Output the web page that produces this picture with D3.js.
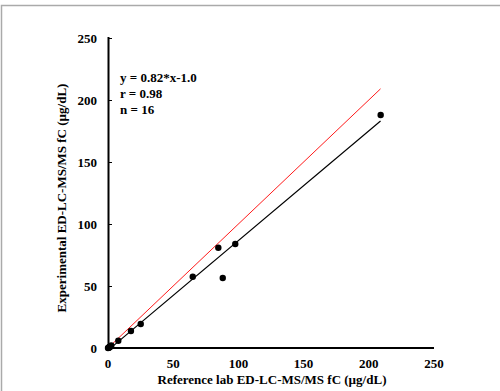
<!DOCTYPE html>
<html>
<head>
<meta charset="utf-8">
<script src="https://cdn.jsdelivr.net/npm/d3@7"></script>
<style>
  body { margin: 0; background: #fff; }
  svg { display: block; }
  text { font-family: "Liberation Serif", "Times New Roman", serif; font-weight: bold; fill: #000; }
</style>
</head>
<body>
<div id="chart"></div>
<script>
// Reference lab vs experimental values (µg/dL)
const refValues = [0, 0.5, 0.8, 1.0, 1.2, 1.5, 2.0, 2.5, 7.9, 17.6, 25.1, 65.0, 84.6, 88.0, 97.6, 209.1];
const expValues = [0, 0.3, 0.5, 0.8, 0.6, 1.0, 1.5, 2.0, 5.9, 13.7, 19.4, 57.5, 80.9, 56.5, 83.9, 187.9];

// fitted line (as drawn) and identity line endpoints
const fitLine = [[1.5, -0.5], [209, 183]];
const identityLine = [[0, 0], [209, 209]];

const xTicks = [0, 50, 100, 150, 200, 250];
const yTicks = [0, 50, 100, 150, 200, 250];
const statsText = ['y = 0.82*x-1.0', 'r = 0.98', 'n = 16'];

const width = 500, height = 391;
const margin = { left: 108, right: 66, top: 38, bottom: 43 };

const svg = d3.select('#chart')
  .append('svg')
  .attr('width', width)
  .attr('height', height);

// outer frame (top + left edges only)
svg.append('path')
  .attr('d', `M1.5,${height} V5.5 H${width}`)
  .attr('fill', 'none')
  .attr('stroke', '#aaa')
  .attr('stroke-width', 1.5);

const x = d3.scaleLinear().domain([0, 250]).range([margin.left, width - margin.right]);
const y = d3.scaleLinear().domain([0, 250]).range([height - margin.bottom, margin.top]);

// y axis: ticks point inward
const yAxis = svg.append('g')
  .attr('transform', `translate(${margin.left},0)`)
  .call(d3.axisRight(y).tickValues(yTicks).tickSize(4).tickFormat(''));
yAxis.select('.domain').remove();
yAxis.selectAll('line').attr('stroke', '#000').attr('stroke-width', 1);

svg.append('line')
  .attr('x1', margin.left + 0.5).attr('x2', margin.left + 0.5)
  .attr('y1', y(250) - 1).attr('y2', y(0) + 1)
  .attr('stroke', '#000').attr('stroke-width', 2);

svg.append('line')
  .attr('x1', margin.left).attr('x2', x(250))
  .attr('y1', y(0)).attr('y2', y(0))
  .attr('stroke', '#000').attr('stroke-width', 2.2);

svg.selectAll('.ylab')
  .data(yTicks)
  .join('text')
  .attr('class', 'ylab')
  .attr('x', margin.left - 11)
  .attr('y', d => y(d) + 4.5)
  .attr('text-anchor', 'end')
  .attr('font-size', 13)
  .text(d => d);

svg.selectAll('.xlab')
  .data(xTicks)
  .join('text')
  .attr('class', 'xlab')
  .attr('x', d => x(d))
  .attr('y', y(0) + 20)
  .attr('text-anchor', 'middle')
  .attr('font-size', 13)
  .text(d => d);

// axis titles
svg.append('text')
  .attr('x', 272)
  .attr('y', 384)
  .attr('text-anchor', 'middle')
  .attr('font-size', 13)
  .text('Reference lab ED-LC-MS/MS fC (µg/dL)');

svg.append('text')
  .attr('transform', `translate(66,${y(125) + 5}) rotate(-90)`)
  .attr('text-anchor', 'middle')
  .attr('font-size', 13)
  .text('Experimental ED-LC-MS/MS fC (µg/dL)');

const line = d3.line().x(d => x(d[0])).y(d => y(d[1]));

svg.append('path')
  .attr('d', line(identityLine))
  .attr('fill', 'none')
  .attr('stroke', '#f00')
  .attr('stroke-width', 0.9);

svg.append('path')
  .attr('d', line(fitLine))
  .attr('fill', 'none')
  .attr('stroke', '#000')
  .attr('stroke-width', 1.2);

svg.selectAll('.dot')
  .data(refValues.map((v, i) => [v, expValues[i]]))
  .join('circle')
  .attr('class', 'dot')
  .attr('cx', d => x(d[0]))
  .attr('cy', d => y(d[1]))
  .attr('r', 3.2)
  .attr('fill', '#000');

svg.selectAll('.stat')
  .data(statsText)
  .join('text')
  .attr('class', 'stat')
  .attr('x', 120)
  .attr('y', (d, i) => 82 + i * 16)
  .attr('font-size', 13)
  .text(d => d);
</script>
</body>
</html>
